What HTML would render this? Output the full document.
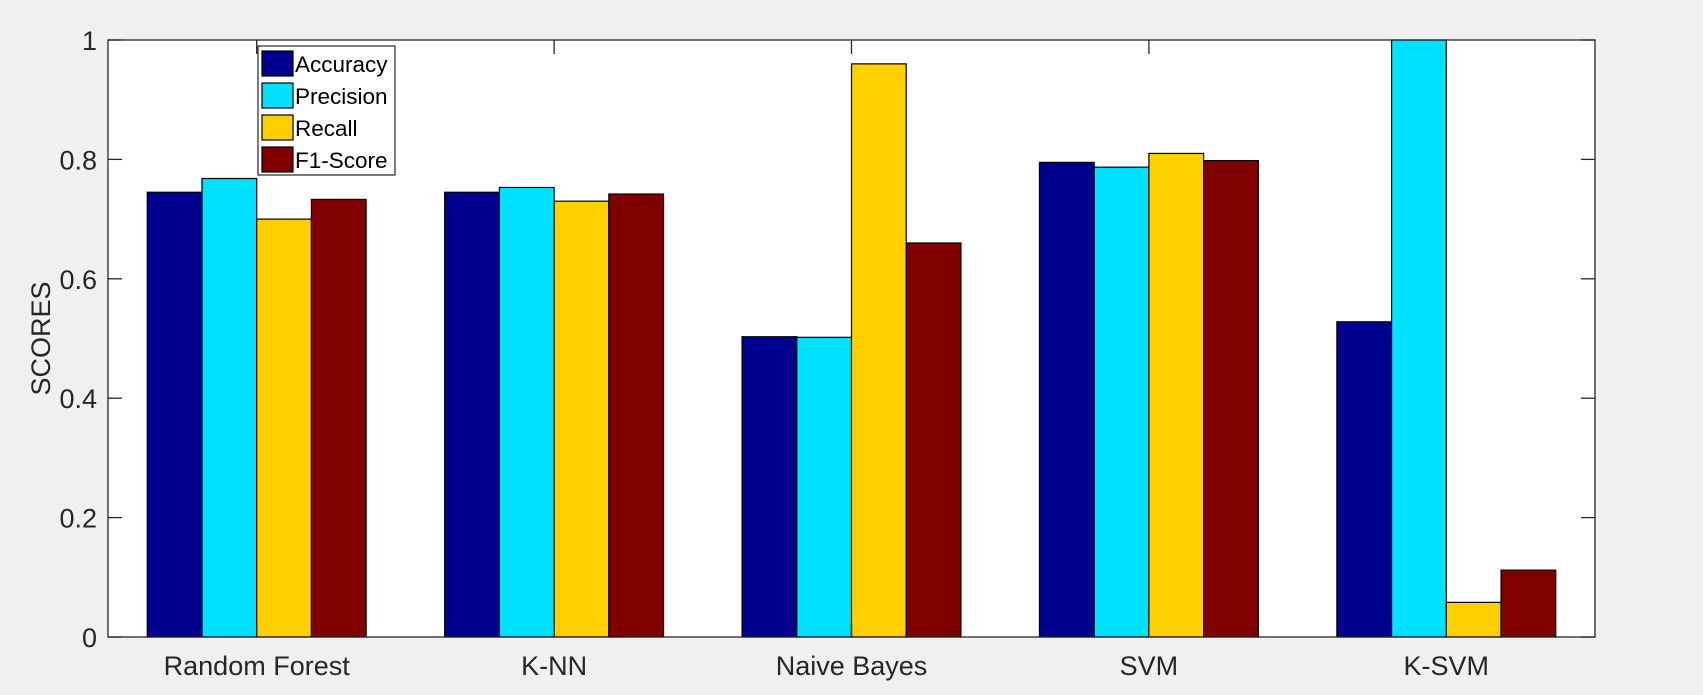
<!DOCTYPE html>
<html><head><meta charset="utf-8"><style>
html,body{margin:0;padding:0;background:#f0f0f0;}
svg{display:block;font-family:"Liberation Sans",Arial,sans-serif;}
</style></head><body>
<svg id="chart" width="1703" height="695">
<rect x="0" y="0" width="1703" height="695" fill="#f0f0f0"/>
<rect id="plotbg" x="108" y="40" width="1487" height="597" fill="#fff"/>
<g id="bars"></g>
<g id="axes"></g>
</svg>
<script>
const categories=["Random Forest","K-NN","Naive Bayes","SVM","K-SVM"];
const seriesNames=["Accuracy","Precision","Recall","F1-Score"];
const accuracy=[0.745,0.745,0.503,0.795,0.528];
const precision=[0.768,0.753,0.502,0.787,1.0];
const recall=[0.70,0.73,0.96,0.81,0.058];
const f1score=[0.733,0.742,0.66,0.798,0.112];
const yTicks=[0,0.2,0.4,0.6,0.8,1];
const yTickLabels=["0","0.2","0.4","0.6","0.8","1"];
const colors=["#00008f","#00e0ff","#ffd000","#800000"];
const series=[accuracy,precision,recall,f1score];
const L=108,T=40,W=1487,H=597,NS="http://www.w3.org/2000/svg";
const xs=v=>L+(v-0.5)/5*W;
const ys=v=>T+H-v*H;
const bars=document.getElementById('bars'),axes=document.getElementById('axes');
function mk(tag,attrs,parent){const e=document.createElementNS(NS,tag);for(const k in attrs)e.setAttribute(k,attrs[k]);parent.appendChild(e);return e;}
const bw=0.184;
series.forEach((s,si)=>{s.forEach((v,ci)=>{
 const x0=xs(ci+1+(si-2)*bw);const x1=xs(ci+1+(si-1)*bw);
 const r=mk('rect',{x:x0,y:ys(v),width:x1-x0,height:ys(0)-ys(v),fill:colors[si],stroke:'#000','stroke-width':1.2},bars);
 
 
});});
const frame=mk('rect',{x:L,y:T,width:W,height:H,fill:'none',stroke:'#262626','stroke-width':1.3},axes);


yTicks.forEach((t,i)=>{
 const y=ys(t);
 mk('line',{x1:L,x2:L+14,y1:y,y2:y,stroke:'#262626','stroke-width':1.3},axes);
 mk('line',{x1:L+W-14,x2:L+W,y1:y,y2:y,stroke:'#262626','stroke-width':1.3},axes);
 const tx=mk('text',{x:L-11,y:y+10,'text-anchor':'end','font-size':27,fill:'#262626'},axes);
 tx.textContent=yTickLabels[i];
 
 
});
categories.forEach((c,i)=>{
 const x=xs(i+1);
 mk('line',{x1:x,x2:x,y1:T+H,y2:T+H-14,stroke:'#262626','stroke-width':1.3},axes);
 mk('line',{x1:x,x2:x,y1:T,y2:T+14,stroke:'#262626','stroke-width':1.3},axes);
 const tx=mk('text',{x:x,y:T+H+38,'text-anchor':'middle','font-size':27,fill:'#262626'},axes);
 tx.textContent=c;
 
 
});
const yl=mk('text',{x:0,y:0,transform:'translate(50,'+(T+H/2)+') rotate(-90)','text-anchor':'middle','font-size':27,fill:'#262626'},axes);
yl.textContent='SCORES';


const lg=mk('g',{},axes);


mk('rect',{x:258,y:46,width:137,height:129,fill:'#fff',stroke:'#262626','stroke-width':1.2},lg);
seriesNames.forEach((n,i)=>{
 const y=51+i*32;
 const sw=mk('rect',{x:262,y:y,width:31,height:25,fill:colors[i],stroke:'#000','stroke-width':1.2},lg);
 
 
 const t=mk('text',{x:295,y:y+21,'font-size':22.5,fill:'#000'},lg);
 t.textContent=n;
 
 
});
</script>
</body></html>
